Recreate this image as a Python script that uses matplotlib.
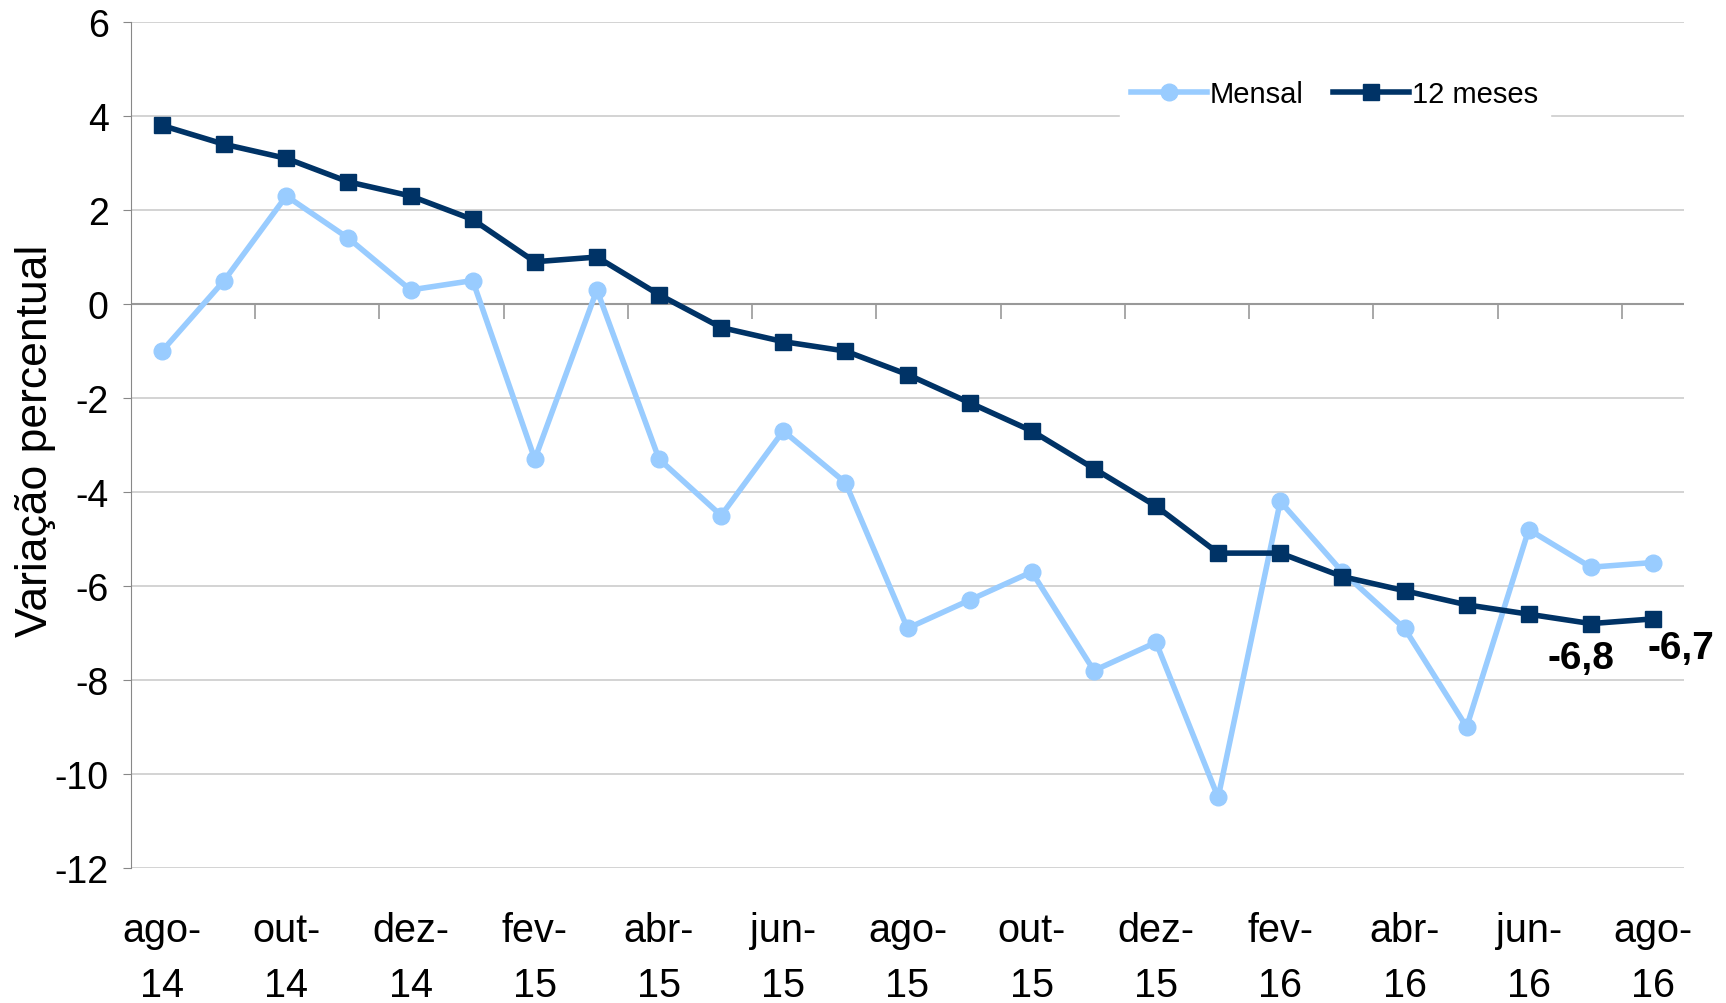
import matplotlib
matplotlib.use("Agg")
import matplotlib.pyplot as plt

months = ["ago-14", "set-14", "out-14", "nov-14", "dez-14", "jan-15", "fev-15", "mar-15",
          "abr-15", "mai-15", "jun-15", "jul-15", "ago-15", "set-15", "out-15", "nov-15",
          "dez-15", "jan-16", "fev-16", "mar-16", "abr-16", "mai-16", "jun-16", "jul-16", "ago-16"]
mensal = [-1.0, 0.5, 2.3, 1.4, 0.3, 0.5, -3.3, 0.3, -3.3, -4.5, -2.7, -3.8, -6.9, -6.3,
          -5.7, -7.8, -7.2, -10.5, -4.2, -5.7, -6.9, -9.0, -4.8, -5.6, -5.5]
doze_meses = [3.8, 3.4, 3.1, 2.6, 2.3, 1.8, 0.9, 1.0, 0.2, -0.5, -0.8, -1.0, -1.5, -2.1,
              -2.7, -3.5, -4.3, -5.3, -5.3, -5.8, -6.1, -6.4, -6.6, -6.8, -6.7]
yticks = [6, 4, 2, 0, -2, -4, -6, -8, -10, -12]
tick_labels = [m.replace("-", "-\n") for m in months]

plt.rcParams["font.family"] = ["Liberation Sans", "DejaVu Sans"]

fig = plt.figure(figsize=(17.26, 10.04), dpi=100)
ax = fig.add_axes([0.0759, 0.1345, 0.8998, 0.8425])

x = list(range(len(months)))
light = "#99CCFF"
dark = "#003366"
ax.plot(x, mensal, color=light, lw=4, marker="o", ms=12, label="Mensal", zorder=3)
ax.plot(x, doze_meses, color=dark, lw=4, marker="s", ms=11.5, label="12 meses", zorder=4)

ax.set_xlim(-0.5, len(months) - 0.5)
ax.set_ylim(-12, 6)
ax.set_yticks(yticks)
ax.set_yticklabels([str(v) for v in yticks])
ax.tick_params(axis="y", labelsize=27, length=6, color="#888888", pad=10)
ax.yaxis.grid(True, color="#CCCCCC", lw=1.2)
ax.set_axisbelow(True)

for s in ["top", "right", "bottom"]:
    ax.spines[s].set_visible(False)
ax.spines["left"].set_color("#888888")

ax.set_xticks(x[::2])
ax.set_xticklabels(tick_labels[::2], fontsize=28.5, linespacing=1.55)
ax.tick_params(axis="x", length=0, pad=31)

# zero axis line with tick marks
ax.axhline(0, color="#999999", lw=1.5, zorder=2)
sec = ax.secondary_xaxis(2 / 3)
sec.set_xticks([i + 1.5 for i in range(0, len(months) - 1, 2)])
sec.set_xticklabels([])
sec.tick_params(axis="x", direction="in", length=11, color="#999999", width=1.2)
sec.spines["bottom"].set_visible(False)
sec.spines["top"].set_visible(False)

ax.text(-0.0618, 0.506, "Variação percentual", transform=ax.transAxes, rotation=90,
        ha="center", va="center", fontsize=32)

ax.annotate("-6,8", (x[-2], doze_meses[-2]), xytext=(-7, -12), textcoords="offset points",
            ha="center", va="top", fontsize=28, fontweight="bold", zorder=5)
ax.annotate("-6,7", (x[-1], doze_meses[-1]), xytext=(20, -8), textcoords="offset points",
            ha="center", va="top", fontsize=28, fontweight="bold", zorder=5, annotation_clip=False)

leg = ax.legend(loc="center", bbox_to_anchor=(0.775, 0.915), ncol=2, frameon=True,
                fancybox=False, edgecolor="white", framealpha=1, handlelength=2.6,
                columnspacing=1.0, handletextpad=0.1,
                prop={"size": 21})

fig.savefig("out.png", dpi=100)
